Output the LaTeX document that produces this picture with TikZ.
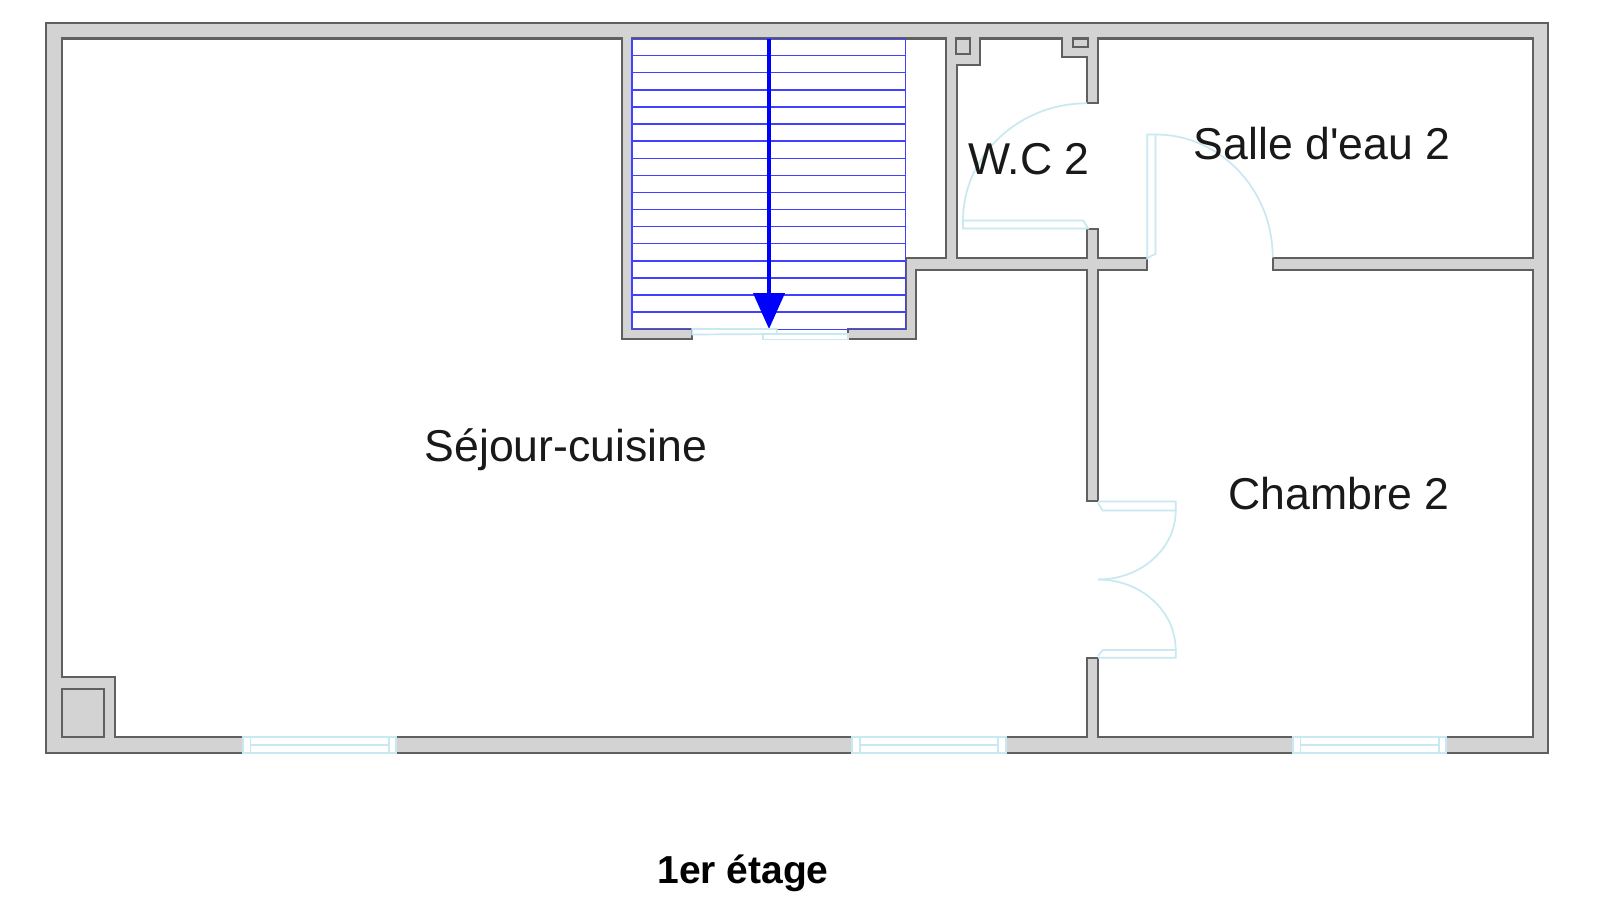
\documentclass[tikz,border=0pt]{standalone}
\usepackage{fontspec}
\setmainfont{Liberation Sans}
\usetikzlibrary{arrows.meta}
\definecolor{wallgray}{HTML}{D3D3D3}
\definecolor{wallline}{HTML}{606060}
\definecolor{doorblue}{HTML}{C8E8F2}
\tikzset{
  wall/.style={draw=wallline, line width=1.1pt, fill=wallgray, line join=miter},
  room/.style={draw=wallline, line width=1.1pt, fill=white, line join=miter},
  door/.style={draw=doorblue, line width=0.85pt},
  glass/.style={draw=doorblue, line width=1pt, fill=white},
  tread/.style={draw=blue!75!white, line width=0.7pt},
  label/.style={font=\fontsize{22.3}{26}\selectfont, inner sep=0pt, text=black!90}
}
\begin{document}
\begin{tikzpicture}[x=0.5pt, y=-0.5pt]
\useasboundingbox (0,0) rectangle (1600,910);
% walls and rooms
\draw[wall] (46,23) rectangle (1548,753);
\draw[room] (62,38.5) -- (621.7,38.5) -- (621.7,339) -- (692.3,339) -- (692.3,329) -- (632,329)
  -- (632,38.5) -- (945.7,38.5) -- (945.7,258.3) -- (905.7,258.3) -- (905.7,329) -- (848.3,329)
  -- (848.3,339) -- (916,339) -- (916,269.7) -- (1087,269.7) -- (1087,501) -- (1098,501)
  -- (1098,269.7) -- (1147.3,269.7) -- (1147.3,258.3) -- (1098,258.3) -- (1098,229) -- (1087,229)
  -- (1087,258.3) -- (957.3,258.3) -- (957.3,65) -- (980,65) -- (980,38.5) -- (1062.3,38.5)
  -- (1062.3,57.3) -- (1087,57.3) -- (1087,103.3) -- (1098,103.3) -- (1098,38.5) -- (1533,38.5)
  -- (1533,258.3) -- (1272.7,258.3) -- (1272.7,269.7) -- (1533,269.7) -- (1533,737) -- (1098,737)
  -- (1098,658) -- (1087,658) -- (1087,737) -- (115,737) -- (115,677.3) -- (62,677.3) -- cycle;
% ducts
\draw[wall] (61.7,689) rectangle (104,737);
\draw[wall] (956,38.5) rectangle (970,54);
\draw[wall] (1072.7,38.5) rectangle (1087.7,46.7);
% stairs
\foreach \i in {0,...,17}
  \draw[tread] (632,38.5+\i*17.1) -- (905.7,38.5+\i*17.1);
\draw[tread] (632,38.5) -- (632,329);
\draw[tread] (905.7,38.5) -- (905.7,329);
\coordinate (stairtop) at (769,38.5);
\coordinate (stairend) at (769,329);
\draw[blue, line width=2.1pt, -{Triangle[length=18pt, width=15.5pt]}] (stairtop) -- (stairend);
% windows
\foreach \x in {242.8,852.3,1292.8} {
  \draw[glass] (\x,737) rectangle (\x+153.3,753);
  \draw[door] (\x+7.7,737) -- (\x+7.7,753);
  \draw[door] (\x+146,737) -- (\x+146,753);
  \draw[door] (\x+7.7,745) -- (\x+146,745);
}
% doors
\draw[door, fill=white] (692.3,329) -- (776.7,329) -- (776.7,334) -- (692.3,334.5) -- cycle;
\draw[door, fill=white] (763.3,334) -- (763.3,339.5) -- (848.3,339.5) -- (848.3,334) -- cycle;
\draw[door] (1098,501.5) -- (1175.7,501.5) -- (1175.7,510.5) -- (1102.7,510.5) -- (1098,503);
\draw[door] (1175.7,510.5) arc[start angle=0, end angle=90, x radius=77.7, y radius=69];
\draw[door] (1098,657.7) -- (1175.7,657.7) -- (1175.7,650) -- (1102.7,650) -- (1098,656);
\draw[door] (1175.7,650) arc[start angle=0, end angle=-90, x radius=77.7, y radius=70.5];
\draw[door] (1147.3,258.3) -- (1147.3,134.5) -- (1155.5,134.5) -- (1155.5,254) -- (1151,256) -- cycle;
\draw[door] (1155.5,134.5) arc[start angle=-90, end angle=0, x radius=117.2, y radius=123];
\draw[door] (1088,228.5) -- (1083.3,220.5) -- (963,220.5) -- (963,228.5) -- cycle;
\draw[door] (963,220.5) arc[start angle=180, end angle=270, x radius=124, y radius=117.2];
% labels
\node[label] (sejour) at (566,450) {Séjour-cuisine};
\node[label] (wc) at (1029,159) {W.C 2};
\node[label] (salle) at (1322,144) {Salle d\textquotesingle eau 2};
\node[label] (chambre) at (1339,494) {Chambre 2};
\node[font=\fontsize{19.5}{23}\bfseries\selectfont, inner sep=0pt] (etage) at (743,873) {1er étage};
\end{tikzpicture}
\end{document}
